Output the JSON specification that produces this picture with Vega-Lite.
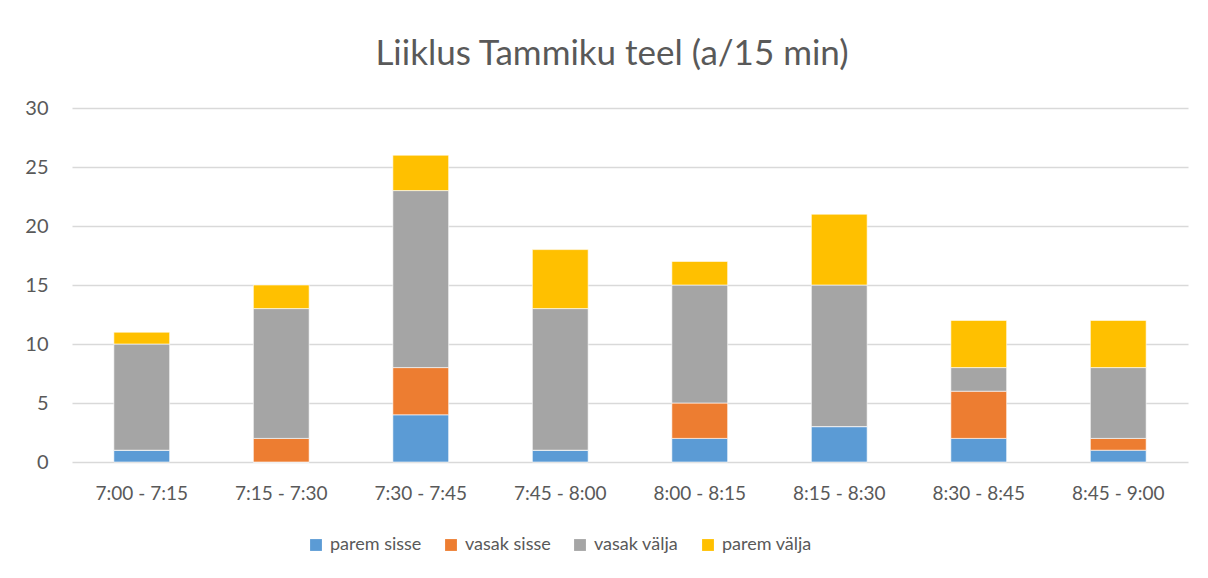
{
  "$schema": "https://vega.github.io/schema/vega-lite/v6.json",
  "width": 1116,
  "height": 354,
  "autosize": {"type": "none"},
  "padding": {"left": 72, "top": 108, "right": 20, "bottom": 116},
  "background": "white",
  "title": {
    "text": "Liiklus Tammiku teel (a/15 min)",
    "font": "Lato",
    "fontSize": 35,
    "fontWeight": "normal",
    "color": "#595959",
    "anchor": "middle",
    "dx": -18,
    "offset": 26
  },
  "data": {
    "values": [
      {"aeg": "7:00 - 7:15", "suund": "parem sisse", "k": 0, "arv": 1},
      {"aeg": "7:00 - 7:15", "suund": "vasak sisse", "k": 1, "arv": 0},
      {"aeg": "7:00 - 7:15", "suund": "vasak välja", "k": 2, "arv": 9},
      {"aeg": "7:00 - 7:15", "suund": "parem välja", "k": 3, "arv": 1},
      {"aeg": "7:15 - 7:30", "suund": "parem sisse", "k": 0, "arv": 0},
      {"aeg": "7:15 - 7:30", "suund": "vasak sisse", "k": 1, "arv": 2},
      {"aeg": "7:15 - 7:30", "suund": "vasak välja", "k": 2, "arv": 11},
      {"aeg": "7:15 - 7:30", "suund": "parem välja", "k": 3, "arv": 2},
      {"aeg": "7:30 - 7:45", "suund": "parem sisse", "k": 0, "arv": 4},
      {"aeg": "7:30 - 7:45", "suund": "vasak sisse", "k": 1, "arv": 4},
      {"aeg": "7:30 - 7:45", "suund": "vasak välja", "k": 2, "arv": 15},
      {"aeg": "7:30 - 7:45", "suund": "parem välja", "k": 3, "arv": 3},
      {"aeg": "7:45 - 8:00", "suund": "parem sisse", "k": 0, "arv": 1},
      {"aeg": "7:45 - 8:00", "suund": "vasak sisse", "k": 1, "arv": 0},
      {"aeg": "7:45 - 8:00", "suund": "vasak välja", "k": 2, "arv": 12},
      {"aeg": "7:45 - 8:00", "suund": "parem välja", "k": 3, "arv": 5},
      {"aeg": "8:00 - 8:15", "suund": "parem sisse", "k": 0, "arv": 2},
      {"aeg": "8:00 - 8:15", "suund": "vasak sisse", "k": 1, "arv": 3},
      {"aeg": "8:00 - 8:15", "suund": "vasak välja", "k": 2, "arv": 10},
      {"aeg": "8:00 - 8:15", "suund": "parem välja", "k": 3, "arv": 2},
      {"aeg": "8:15 - 8:30", "suund": "parem sisse", "k": 0, "arv": 3},
      {"aeg": "8:15 - 8:30", "suund": "vasak sisse", "k": 1, "arv": 0},
      {"aeg": "8:15 - 8:30", "suund": "vasak välja", "k": 2, "arv": 12},
      {"aeg": "8:15 - 8:30", "suund": "parem välja", "k": 3, "arv": 6},
      {"aeg": "8:30 - 8:45", "suund": "parem sisse", "k": 0, "arv": 2},
      {"aeg": "8:30 - 8:45", "suund": "vasak sisse", "k": 1, "arv": 4},
      {"aeg": "8:30 - 8:45", "suund": "vasak välja", "k": 2, "arv": 2},
      {"aeg": "8:30 - 8:45", "suund": "parem välja", "k": 3, "arv": 4},
      {"aeg": "8:45 - 9:00", "suund": "parem sisse", "k": 0, "arv": 1},
      {"aeg": "8:45 - 9:00", "suund": "vasak sisse", "k": 1, "arv": 1},
      {"aeg": "8:45 - 9:00", "suund": "vasak välja", "k": 2, "arv": 6},
      {"aeg": "8:45 - 9:00", "suund": "parem välja", "k": 3, "arv": 4}
    ]
  },
  "mark": {"type": "bar", "stroke": "white", "strokeWidth": 0.6},
  "encoding": {
    "x": {
      "field": "aeg",
      "type": "nominal",
      "sort": null,
      "scale": {"paddingInner": 0.6, "paddingOuter": 0.3},
      "axis": {
        "title": null,
        "labelAngle": 0,
        "labelFont": "Lato",
        "labelFontSize": 19,
        "labelColor": "#595959",
        "labelPadding": 22,
        "ticks": false,
        "domain": false
      }
    },
    "y": {
      "field": "arv",
      "type": "quantitative",
      "aggregate": "sum",
      "stack": "zero",
      "scale": {"domain": [0, 30]},
      "axis": {
        "title": null,
        "values": [0, 5, 10, 15, 20, 25, 30],
        "labelFont": "Lato",
        "labelFontSize": 20,
        "labelColor": "#595959",
        "labelPadding": 24,
        "ticks": false,
        "domain": false,
        "grid": true,
        "gridColor": "#d9d9d9",
        "gridWidth": 1.3
      }
    },
    "color": {
      "field": "suund",
      "type": "nominal",
      "scale": {
        "domain": ["parem sisse", "vasak sisse", "vasak välja", "parem välja"],
        "range": ["#5B9BD5", "#ED7D31", "#A5A5A5", "#FFC000"]
      },
      "legend": {
        "title": null,
        "orient": "none",
        "legendX": 235,
        "legendY": 428,
        "direction": "horizontal",
        "symbolType": "square",
        "symbolSize": 140,
        "symbolStrokeWidth": 0,
        "labelFont": "Lato",
        "labelFontSize": 18,
        "labelColor": "#595959",
        "columnPadding": 20,
        "labelOffset": 5
      }
    },
    "order": {"field": "k", "type": "quantitative"}
  },
  "config": {
    "view": {"stroke": null}
  }
}
